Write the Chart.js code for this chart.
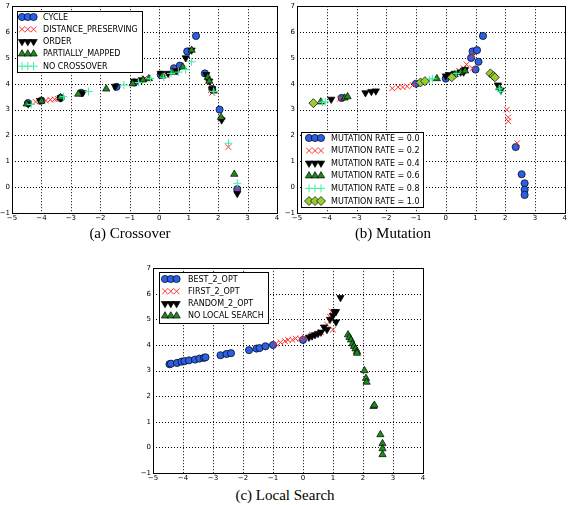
<!DOCTYPE html>
<html>
<head>
<meta charset="utf-8">
<script src="https://cdn.jsdelivr.net/npm/chart.js@4.4.0/dist/chart.umd.min.js"></script>
<style>
  body { margin: 0; background: #fff; width: 570px; height: 505px; position: relative; overflow: hidden; }
  canvas { position: absolute; }
  .cap { position: absolute; width: 200px; height: 18px; line-height: 18px; text-align: center;
         font-family: 'Liberation Serif', serif; font-size: 15px; color: #000; }
</style>
</head>
<body>
<canvas id="crossover" width="285" height="225" style="left:0;top:0"></canvas>
<canvas id="mutation" width="285" height="225" style="left:285px;top:0"></canvas>
<canvas id="localSearch" width="290" height="223" style="left:140px;top:262px"></canvas>
<div class="cap" style="left:30px;top:224px">(a) Crossover</div>
<div class="cap" style="left:293px;top:224px">(b) Mutation</div>
<div class="cap" style="left:185px;top:486px">(c) Local Search</div>
<script>
// axis ticks
const xTicks = [-5, -4, -3, -2, -1, 0, 1, 2, 3, 4];
const yTicks = [-1, 0, 1, 2, 3, 4, 5, 6, 7];

// (a) crossover
const crossLabels = ['CYCLE', 'DISTANCE_PRESERVING', 'ORDER', 'PARTIALLY_MAPPED', 'NO CROSSOVER'];
const crossCycle = [[-4.45, 3.25], [-4.0, 3.35], [-3.35, 3.45], [-2.65, 3.65], [-1.45, 3.88], [-0.85, 4.05],
  [0.05, 4.35], [0.5, 4.6], [0.7, 4.7], [0.95, 5.25], [1.25, 5.85], [1.55, 4.4], [1.8, 3.8], [2.05, 3.0], [2.65, -0.08]];
const crossDistance = [[-4.2, 3.3], [-3.85, 3.35], [-3.7, 3.38], [-3.55, 3.4], [-3.45, 3.42], [-0.5, 4.2],
  [0.25, 4.35], [0.6, 4.55], [1.65, 4.2], [1.75, 3.75], [1.8, 3.65], [2.1, 2.65], [2.35, 1.55], [2.65, -0.1]];
const crossOrder = [[-4.45, 3.22], [-4.05, 3.35], [-3.35, 3.45], [-2.6, 3.65], [-1.5, 3.9], [-0.85, 4.1], [-0.6, 4.15],
  [0.05, 4.4], [0.3, 4.4], [0.6, 4.5], [0.9, 5.0], [1.1, 5.3], [1.6, 4.35], [1.7, 4.1], [1.8, 3.8], [2.12, 2.6], [2.65, -0.25]];
const crossPartial = [[-4.5, 3.22], [-4.0, 3.33], [-3.35, 3.47], [-2.75, 3.6], [-1.8, 3.8], [-0.9, 4.0], [-0.55, 4.15],
  [-0.35, 4.2], [0.1, 4.3], [0.45, 4.45], [0.8, 4.65], [1.1, 5.3], [1.65, 4.25], [1.7, 4.1], [1.85, 3.72], [2.1, 2.7], [2.55, 0.5]];
const crossNone = [[-4.35, 3.2], [-3.25, 3.5], [-2.4, 3.7], [-1.2, 3.95], [-0.7, 4.05], [-0.3, 4.2], [0.15, 4.25],
  [0.4, 4.4], [0.65, 4.45], [0.9, 4.55], [1.1, 4.85], [1.85, 3.7], [2.35, 1.7], [2.65, 0.15]];

// (b) mutation
const mutLabels = ['MUTATION RATE = 0.0', 'MUTATION RATE = 0.2', 'MUTATION RATE = 0.4',
  'MUTATION RATE = 0.6', 'MUTATION RATE = 0.8', 'MUTATION RATE = 1.0'];
const mut00 = [[-3.5, 3.45], [-1.0, 4.0], [0.0, 4.2], [0.9, 5.25], [1.05, 5.3], [1.1, 4.85], [1.0, 4.55], [0.85, 5.0],
  [1.25, 5.85], [2.35, 1.55], [2.55, 0.5], [2.65, 0.15], [2.65, -0.1], [2.65, -0.3]];
const mut02 = [[-3.55, 3.42], [-1.8, 3.82], [-1.6, 3.87], [-1.45, 3.87], [-1.3, 3.9], [-1.1, 3.95], [0.25, 4.35],
  [0.45, 4.5], [0.6, 4.6], [0.7, 4.75], [0.9, 5.1], [0.9, 4.6], [2.05, 3.0], [2.1, 2.7], [2.1, 2.55], [2.4, 1.7]];
const mut04 = [[-3.85, 3.4], [-2.7, 3.65], [-2.5, 3.7], [-2.35, 3.72], [0.0, 4.3], [0.1, 4.35], [0.3, 4.4],
  [0.5, 4.45], [0.65, 4.55], [0.6, 4.45], [1.75, 3.95], [1.85, 3.75]];
const mut06 = [[-4.2, 3.3], [-3.4, 3.45], [-3.3, 3.5], [-0.3, 4.2], [0.3, 4.35], [0.5, 4.45], [0.65, 4.5], [1.8, 3.85]];
const mut08 = [[-4.15, 3.28], [-4.05, 3.3], [-0.55, 4.15], [-0.45, 4.2], [0.35, 4.4], [1.85, 3.7], [1.8, 3.8]];
const mut10 = [[-4.45, 3.25], [-0.85, 4.05], [-0.7, 4.1], [0.2, 4.25], [1.5, 4.4], [1.6, 4.3], [1.65, 4.25]];

// (c) local search
const lsLabels = ['BEST_2_OPT', 'FIRST_2_OPT', 'RANDOM_2_OPT', 'NO LOCAL SEARCH'];
const lsBest = [[-4.45, 3.25], [-4.4, 3.27], [-4.2, 3.3], [-4.05, 3.35], [-3.95, 3.37], [-3.8, 3.4], [-3.6, 3.43],
  [-3.45, 3.47], [-3.3, 3.5], [-3.25, 3.52], [-2.75, 3.6], [-2.55, 3.65], [-2.4, 3.68], [-1.8, 3.8], [-1.55, 3.86],
  [-1.45, 3.88], [-1.25, 3.95], [-1.0, 4.0], [0.0, 4.2]];
const lsFirst = [[-0.9, 4.05], [-0.75, 4.1], [-0.6, 4.15], [-0.5, 4.2], [-0.35, 4.2], [-0.25, 4.25], [-0.1, 4.25],
  [0.05, 4.3], [0.3, 4.4], [0.6, 4.5], [0.8, 4.8], [0.9, 5.1], [1.0, 4.6], [0.95, 5.3]];
const lsRandom = [[0.2, 4.3], [0.3, 4.35], [0.4, 4.4], [0.5, 4.45], [0.6, 4.5], [0.7, 4.7], [0.8, 4.6], [0.9, 5.0],
  [1.0, 5.15], [1.05, 5.3], [1.1, 5.3], [1.1, 4.9], [1.25, 5.85]];
const lsNone = [[1.5, 4.4], [1.55, 4.3], [1.6, 4.2], [1.65, 4.05], [1.7, 3.95], [1.75, 3.85], [1.8, 3.75], [1.8, 3.68],
  [2.05, 3.0], [2.1, 2.7], [2.12, 2.55], [2.35, 1.6], [2.38, 1.65], [2.58, 0.5], [2.65, 0.15], [2.65, -0.05], [2.65, -0.28]];

// marker styles (matplotlib-ish)
const STYLES = {
  circle:  { pointStyle: 'circle', pointRotation: 0, pointRadius: 3.6, backgroundColor: '#2b5fe8', borderColor: '#000', borderWidth: 0.7 },
  cross:   { pointStyle: 'crossRot', pointRotation: 0, pointRadius: 4, backgroundColor: '#ff3030', borderColor: '#ff3030', borderWidth: 1 },
  down:    { pointStyle: 'triangle', pointRotation: 180, pointRadius: 4.2, backgroundColor: '#000', borderColor: '#000', borderWidth: 0.7 },
  up:      { pointStyle: 'triangle', pointRotation: 0, pointRadius: 4.2, backgroundColor: '#1c8c1c', borderColor: '#000', borderWidth: 0.7 },
  plus:    { pointStyle: 'cross', pointRotation: 0, pointRadius: 4, backgroundColor: '#3cf0a0', borderColor: '#3cf0a0', borderWidth: 1 },
  diamond: { pointStyle: 'rectRot', pointRotation: 0, pointRadius: 4.5, backgroundColor: '#9acd32', borderColor: '#000', borderWidth: 0.7 }
};

// dotted grid at every tick, under the points
const dottedGrid = {
  id: 'dottedGrid',
  beforeDatasetsDraw(chart) {
    const { ctx, chartArea: a } = chart;
    const xs = chart.scales.x, ys = chart.scales.y;
    ctx.save();
    ctx.strokeStyle = '#000000';
    ctx.lineWidth = 1;
    ctx.setLineDash([1, 2]);
    for (const v of xTicks) {
      const px = Math.round(xs.getPixelForValue(v)) + 0.5;
      ctx.beginPath();
      ctx.moveTo(px, a.top);
      ctx.lineTo(px, a.bottom);
      ctx.stroke();
    }
    for (const v of yTicks) {
      const py = Math.round(ys.getPixelForValue(v)) + 0.5;
      ctx.beginPath();
      ctx.moveTo(a.left, py);
      ctx.lineTo(a.right, py);
      ctx.stroke();
    }
    ctx.restore();
  }
};

const frame = {
  id: 'frame',
  afterDraw(chart) {
    const { ctx, chartArea: a } = chart;
    ctx.save();
    ctx.strokeStyle = '#000';
    ctx.lineWidth = 1;
    ctx.strokeRect(Math.round(a.left) + 0.5, Math.round(a.top) + 0.5, Math.round(a.right - a.left), Math.round(a.bottom - a.top));
    ctx.restore();
  }
};

// legend with three markers per row, drawn inside the plot
const markerLegend = {
  id: 'markerLegend',
  afterDraw(chart, args, o) {
    const { ctx, chartArea: a } = chart;
    const sets = chart.data.datasets;
    ctx.save();
    ctx.font = '8px "DejaVu Sans"';
    const textW = Math.max(...sets.map(d => ctx.measureText(d.label).width));
    const w = Math.round(o.textX + textW + 4);
    const h = Math.round(o.first * 2 + (sets.length - 1) * o.row);
    const x0 = Math.round(a.left + o.dx);
    const y0 = Math.round(o.corner === 'bottom' ? a.bottom - o.dy - h : a.top + o.dy);
    ctx.fillStyle = '#fff';
    ctx.fillRect(x0, y0, w, h);
    ctx.strokeStyle = '#000';
    ctx.lineWidth = 1;
    ctx.strokeRect(x0 + 0.5, y0 + 0.5, w, h);
    sets.forEach((d, i) => {
      const cy = y0 + o.first + i * o.row;
      for (let k = 0; k < 3; k++) {
        ctx.fillStyle = d.backgroundColor;
        ctx.strokeStyle = d.borderColor;
        ctx.lineWidth = d.borderWidth;
        Chart.helpers.drawPoint(ctx, {
          pointStyle: d.pointStyle, rotation: d.pointRotation, radius: d.pointRadius, borderWidth: d.borderWidth
        }, x0 + o.markX + k * o.markGap, cy);
      }
      ctx.fillStyle = '#000';
      ctx.textBaseline = 'middle';
      ctx.fillText(d.label, x0 + o.textX, cy + 0.5);
    });
    ctx.restore();
  }
};

const tickFont = { family: 'DejaVu Sans', size: 7 };
const minus = v => String(v).replace('-', '\u2212');

function makeChart(id, labels, series, styles, pad, yWidth, legendOpts) {
  const datasets = series.map((pts, i) => ({
    label: labels[i],
    data: pts.map(p => ({ x: p[0], y: p[1] })),
    order: series.length - i,
    ...STYLES[styles[i]]
  }));
  return new Chart(document.getElementById(id), {
    type: 'scatter',
    data: { datasets },
    options: {
      responsive: false,
      animation: false,
      devicePixelRatio: 1,
      layout: { padding: pad },
      plugins: { legend: { display: false }, tooltip: { enabled: false }, markerLegend: legendOpts },
      scales: {
        x: {
          min: xTicks[0], max: xTicks[xTicks.length - 1],
          afterBuildTicks: s => { s.ticks = xTicks.map(v => ({ value: v })); },
          afterFit: s => { s.height = 12; },
          ticks: { font: tickFont, color: '#000', padding: 1, maxRotation: 0, callback: minus },
          grid: { display: false, drawTicks: false },
          border: { display: false }
        },
        y: {
          min: yTicks[0], max: yTicks[yTicks.length - 1],
          afterBuildTicks: s => { s.ticks = yTicks.map(v => ({ value: v })); },
          afterFit: s => { s.width = yWidth; },
          ticks: { font: tickFont, color: '#000', padding: 2, callback: minus },
          grid: { display: false, drawTicks: false },
          border: { display: false }
        }
      }
    },
    plugins: [dottedGrid, frame, markerLegend]
  });
}

makeChart('crossover', crossLabels,
  [crossCycle, crossDistance, crossOrder, crossPartial, crossNone],
  ['circle', 'cross', 'down', 'up', 'plus'],
  { top: 4, right: 8, bottom: 0, left: 0 }, 12,
  { dx: 5, dy: 5, corner: 'top', first: 6, row: 12.3, markX: 5, markGap: 5.8, textX: 26 });

makeChart('mutation', mutLabels,
  [mut00, mut02, mut04, mut06, mut08, mut10],
  ['circle', 'cross', 'down', 'up', 'plus', 'diamond'],
  { top: 4, right: 2, bottom: 0, left: 0 }, 12,
  { dx: 4, dy: 6, corner: 'bottom', first: 6, row: 12.6, markX: 8, markGap: 6, textX: 30 });

makeChart('localSearch', lsLabels,
  [lsBest, lsFirst, lsRandom, lsNone],
  ['circle', 'cross', 'down', 'up'],
  { top: 4, right: 7, bottom: 0, left: 0 }, 13,
  { dx: 6, dy: 4, corner: 'top', first: 7, row: 12.3, markX: 6, markGap: 5.8, textX: 29 });
</script>
</body>
</html>
